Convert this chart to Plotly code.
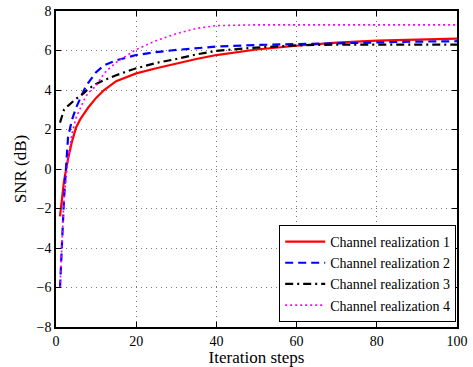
import plotly.graph_objects as go

x1 = [1, 2, 3, 4, 5, 6, 7, 8, 10, 12, 15, 20, 25, 30, 35, 40, 50, 60, 70, 80, 90, 100]
snr1 = [-2.4, -0.6, 0.5, 1.4, 2.1, 2.5, 2.8, 3.1, 3.6, 4.0, 4.45, 4.84, 5.1, 5.35, 5.57, 5.77, 6.05, 6.24, 6.4, 6.5, 6.56, 6.6]
snr2 = [-6.0, -1.5, 1.6, 2.5, 3.1, 3.6, 4.0, 4.35, 4.9, 5.25, 5.5, 5.77, 5.92, 6.03, 6.12, 6.2, 6.28, 6.33, 6.38, 6.42, 6.45, 6.47]
snr3 = [2.35, 3.0, 3.2, 3.4, 3.55, 3.7, 3.85, 4.05, 4.3, 4.5, 4.75, 5.1, 5.37, 5.57, 5.8, 5.98, 6.15, 6.26, 6.3, 6.3, 6.3, 6.3]
snr4 = [-6.0, -1.5, 0.5, 1.8, 2.6, 3.1, 3.5, 3.85, 4.2, 4.85, 5.4, 6.05, 6.5, 6.85, 7.12, 7.26, 7.3, 7.3, 7.3, 7.3, 7.3, 7.3]
names = ["Channel realization 1", "Channel realization 2", "Channel realization 3", "Channel realization 4"]
xticks = [0, 20, 40, 60, 80, 100]
yticks = [-8, -6, -4, -2, 0, 2, 4, 6, 8]

font = "Liberation Serif"
fig = go.Figure()
styles = [("red", "solid", 2.2), ("blue", "8px,5px", 2.2), ("black", "8px,4px,2px,4px", 2.2), ("magenta", "2px,3px", 1.6)]
for y, n, (c, d, w) in zip([snr1, snr2, snr3, snr4], names, styles):
    fig.add_trace(go.Scatter(x=x1, y=y, mode="lines", name=n,
                             line=dict(color=c, dash=d, width=w)))

axis_common = dict(showline=True, linecolor="black", linewidth=1.5, mirror="allticks",
                   ticks="inside", ticklen=5, tickcolor="black", automargin=False,
                   showgrid=True, gridcolor="#777", griddash="1px,4px", gridwidth=1,
                   zeroline=False, tickfont=dict(size=14, family=font, color="black"))
fig.update_xaxes(range=[0, 100], tickvals=xticks,
                 title=dict(text="Iteration steps", font=dict(size=17, family=font, color="black"), standoff=0),
                 **axis_common)
fig.update_yaxes(range=[-8, 8], tickvals=yticks, tickformat="d",
                 title=dict(text="SNR (dB)", font=dict(size=17, family=font, color="black"), standoff=6),
                 **axis_common)
fig.update_layout(
    width=473, height=367,
    margin=dict(l=56, r=16, t=11, b=40),
    plot_bgcolor="white", paper_bgcolor="white",
    font=dict(family=font, color="black"),
    legend=dict(x=0.998, y=0.016, xanchor="right", yanchor="bottom",
                bordercolor="black", borderwidth=1, bgcolor="white",
                font=dict(size=14, family=font, color="black"),
                tracegroupgap=0, itemwidth=40),
    showlegend=True,
)
fig.write_html("out.html")
